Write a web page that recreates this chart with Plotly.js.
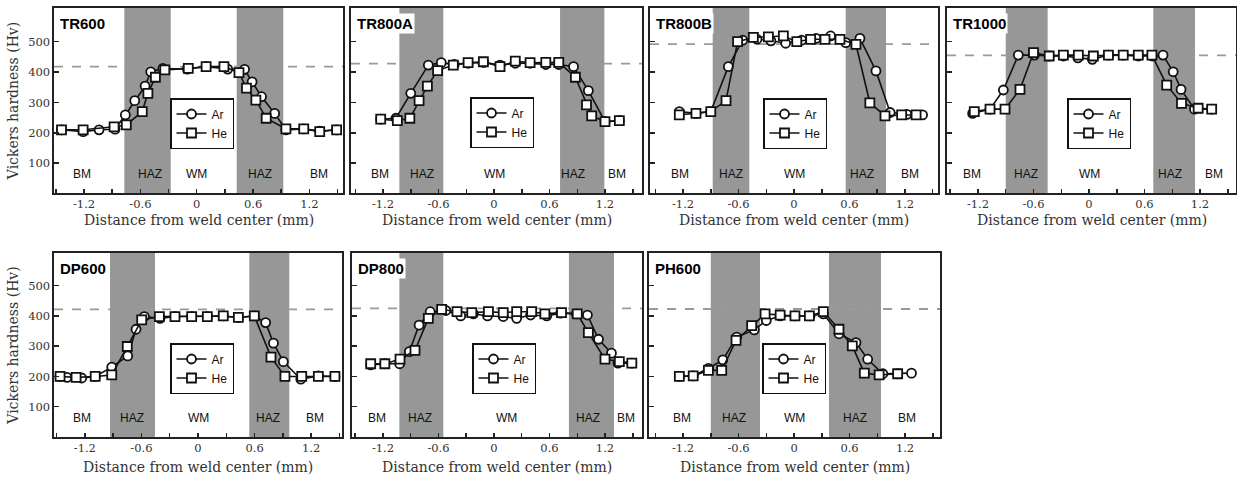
<!DOCTYPE html>
<html>
<head>
<meta charset="utf-8">
<script src="https://cdn.plot.ly/plotly-3.0.1.min.js"></script>
<style>html,body{margin:0;padding:0;background:#fff;}#chart{width:1237px;height:477px;}</style>
</head>
<body>
<div id="chart"></div>
<script>
// ---------------- DATA ----------------
const panelNames = ['TR600', 'TR800A', 'TR800B', 'TR1000', 'DP600', 'DP800', 'PH600'];
const seriesNames = ['Ar', 'He'];
const xTickVals = [-1.2, -0.6, 0, 0.6, 1.2];
const xTickText = ['-1.2', '-0.6', '0', '0.6', '1.2'];
const yTickVals = [100, 200, 300, 400, 500];
const zoneNames = ['BM', 'HAZ', 'WM', 'HAZ', 'BM'];
const xTitle = 'Distance from weld center (mm)';
const yTitle = 'Vickers hardness (Hv)';

const tr600ArX = [-1.44,-1.21,-1.04,-0.87,-0.76,-0.66,-0.55,-0.49,-0.36,-0.10,0.10,0.33,0.51,0.59,0.69,0.83,0.95,1.14,1.31,1.49];
const tr600ArY = [210,204,210,212,259,306,354,401,412,410,418,410,409,368,319,264,210,213,206,210];
const tr600HeX = [-1.44,-1.21,-0.88,-0.75,-0.58,-0.52,-0.44,-0.34,-0.09,0.10,0.29,0.45,0.53,0.63,0.74,0.95,1.14,1.31,1.49];
const tr600HeY = [210,210,220,226,270,330,383,407,412,418,418,398,347,308,248,213,213,204,210];

const tr800aArX = [-1.225,-1.06,-0.90,-0.71,-0.57,-0.43,-0.28,-0.11,0.065,0.23,0.39,0.56,0.70,0.86,1.02,1.20,1.355];
const tr800aArY = [245,248,330,423,431,425,429,432,423,429,429,425,425,418,339,237,240];
const tr800aHeX = [-1.225,-1.045,-0.91,-0.81,-0.72,-0.61,-0.44,-0.28,-0.115,0.065,0.23,0.39,0.56,0.70,0.88,1.0,1.056,1.2,1.355];
const tr800aHeY = [245,240,248,306,354,405,423,431,434,418,436,431,432,432,383,292,256,237,240];

const tr800bArX = [-1.24,-1.06,-0.90,-0.71,-0.555,-0.40,-0.25,-0.09,0.083,0.238,0.396,0.56,0.713,0.886,1.04,1.22,1.39];
const tr800bArY = [270,264,270,418,505,508,503,495,505,511,519,497,511,404,267,261,259];
const tr800bHeX = [-1.24,-1.06,-0.90,-0.735,-0.61,-0.44,-0.277,-0.115,0.03,0.18,0.335,0.497,0.67,0.82,0.984,1.164,1.32];
const tr800bHeY = [259,264,270,306,500,514,516,519,500,508,508,508,491,299,256,259,259];

const tr1000ArX = [-1.258,-1.07,-0.926,-0.764,-0.59,-0.43,-0.277,-0.12,0.036,0.21,0.37,0.533,0.685,0.80,0.91,0.995,1.14,1.326];
const tr1000ArY = [264,278,341,456,456,453,453,447,442,456,456,453,453,456,401,343,278,278];
const tr1000HeX = [-1.24,-1.07,-0.908,-0.746,-0.60,-0.43,-0.277,-0.115,0.047,0.21,0.37,0.533,0.68,0.84,1.0,1.18,1.326];
const tr1000HeY = [270,278,278,343,464,453,456,456,453,456,456,456,456,357,297,281,278];

const dp600ArX = [-1.463,-1.39,-1.233,-1.09,-0.915,-0.745,-0.657,-0.569,-0.403,-0.244,-0.067,0.099,0.268,0.428,0.597,0.717,0.80,0.905,1.09,1.276,1.452];
const dp600ArY = [200,197,195,200,231,268,356,398,392,398,398,398,400,395,400,378,310,249,191,202,200];
const dp600HeX = [-1.463,-1.293,-1.09,-0.915,-0.75,-0.597,-0.41,-0.244,-0.067,0.099,0.268,0.428,0.597,0.774,0.922,1.10,1.276,1.452];
const dp600HeY = [200,197,200,205,299,387,398,398,398,398,400,395,400,264,200,200,200,200];

const dp800ArX = [-1.333,-1.18,-1.02,-0.915,-0.81,-0.69,-0.52,-0.36,-0.223,-0.07,0.10,0.245,0.396,0.57,0.72,0.89,1.01,1.13,1.27,1.34,1.49];
const dp800ArY = [238,242,242,282,370,414,418,400,407,400,398,392,403,400,409,407,403,323,277,244,244];
const dp800HeX = [-1.333,-1.18,-1.016,-0.854,-0.71,-0.566,-0.40,-0.24,-0.06,0.10,0.245,0.407,0.55,0.73,0.90,1.02,1.20,1.355,1.49];
const dp800HeY = [242,242,257,286,392,422,414,411,414,411,414,414,407,411,407,345,257,249,244];

const ph600ArX = [-1.24,-1.09,-0.926,-0.77,-0.62,-0.43,-0.30,-0.15,0.01,0.173,0.317,0.486,0.67,0.796,0.96,1.12,1.27];
const ph600ArY = [200,202,227,255,330,354,385,400,400,400,407,341,312,257,209,209,211];
const ph600HeX = [-1.24,-1.09,-0.926,-0.782,-0.627,-0.458,-0.313,-0.15,0.01,0.166,0.317,0.486,0.63,0.76,0.92,1.12];
const ph600HeY = [200,202,220,220,319,368,407,403,400,400,414,356,301,211,205,209];

// reference (dashed) hardness of each panel
const refHardness = [418, 428, 492, 455, 422, 425, 423];
// HAZ extents (mm): [left start, left end, right start, right end]
const hazTR600  = [-0.771, -0.277, 0.426, 0.922];
const hazTR800A = [-1.023, -0.548, 0.714, 1.193];
const hazTR800B = [-0.879, -0.483, 0.559, 0.995];
const hazTR1000 = [-0.900, -0.447, 0.695, 1.146];
const hazDP600  = [-0.933, -0.456, 0.544, 0.968];
const hazDP800  = [-1.023, -0.548, 0.810, 1.297];
const hazPH600  = [-0.900, -0.368, 0.378, 0.940];

// ---------------- LAYOUT HELPERS ----------------
const W = 1237, H = 477;
const seriesX = [[tr600ArX, tr600HeX],[tr800aArX, tr800aHeX],[tr800bArX, tr800bHeX],[tr1000ArX, tr1000HeX],[dp600ArX, dp600HeX],[dp800ArX, dp800HeX],[ph600ArX, ph600HeX]];
const seriesY = [[tr600ArY, tr600HeY],[tr800aArY, tr800aHeY],[tr800bArY, tr800bHeY],[tr1000ArY, tr1000HeY],[dp600ArY, dp600HeY],[dp800ArY, dp800HeY],[ph600ArY, ph600HeY]];
const hazList = [hazTR600, hazTR800A, hazTR800B, hazTR1000, hazDP600, hazDP800, hazPH600];

// pixel boxes [left, right, top, bottom]
const boxes = [[54,343,8,193],[351,642,8,193],[650,938,8,193],[947,1236,8,193],
               [54,342,253,437],[352,642,253,437],[649,940,253,437]];
const xRanges = [[-1.52,1.558],[-1.546,1.6],[-1.557,1.557],[-1.535,1.589],[-1.527,1.527],[-1.535,1.6],[-1.568,1.578]];
const yRanges = [[2,611],[2,611],[2,611],[2,611],[0,608],[0,608],[0,608]];
const zoneX = [[-1.22,-0.5,0,0.67,1.3],[-1.23,-0.78,0,0.85,1.33],[-1.23,-0.68,0,0.73,1.25],[-1.27,-0.68,0,0.876,1.355],
               [-1.233,-0.70,0,0.74,1.24],[-1.27,-0.8,0.137,1.02,1.43],[-1.21,-0.645,0,0.66,1.22]];
// legend box centre pixel
const legendPos = [[202,123.5],[502,122.5],[795,123.5],[1099,123.5],[202,368.5],[504,368.5],[794,368.5]];
// x-title centre pixel y per row
const xTitleY = [220, 220, 220, 220, 467, 467, 467];

const serif = 'DejaVu Serif, Liberation Serif, serif';
const sans = 'Liberation Sans, Arial, sans-serif';
const symbols = ['circle', 'square'];

const traces = [];
const layout = {
  width: W, height: H,
  margin: {l:0, r:0, t:0, b:0},
  paper_bgcolor: '#fff', plot_bgcolor: '#fff',
  shapes: [], annotations: [],
  font: {family: serif, color: '#222'}
};

panelNames.forEach((name, i) => {
  const n = i + 1;
  const xa = n === 1 ? 'x' : 'x' + n;
  const ya = n === 1 ? 'y' : 'y' + n;
  const xKey = n === 1 ? 'xaxis' : 'xaxis' + n;
  const yKey = n === 1 ? 'yaxis' : 'yaxis' + n;
  const lgKey = n === 1 ? 'legend' : 'legend' + n;
  const b = boxes[i];
  const firstCol = (i === 0 || i === 4);

  layout[xKey] = {
    domain: [b[0]/W, b[1]/W], anchor: ya, range: xRanges[i],
    showgrid: false, zeroline: false,
    showline: true, mirror: true, linecolor: '#222', linewidth: 1.6,
    tickmode: 'array', tickvals: xTickVals, ticktext: xTickText,
    ticks: 'inside', ticklen: 4, tickwidth: 1.5, tickcolor: '#222',
    minor: {tickmode: 'linear', tick0: 0, dtick: 0.3, ticks: 'inside', ticklen: 4, tickwidth: 1.5, tickcolor: '#222', showgrid: false},
    tickfont: {family: serif, size: 11.5, color: '#333'},
    ticklabelstandoff: 0
  };
  layout[yKey] = {
    domain: [1 - b[3]/H, 1 - b[2]/H], anchor: xa, range: yRanges[i],
    showgrid: false, zeroline: false,
    showline: true, mirror: true, linecolor: '#222', linewidth: 1.6,
    tickmode: 'array', tickvals: yTickVals,
    ticks: 'inside', ticklen: 5, tickwidth: 1.5, tickcolor: '#222',
    showticklabels: firstCol,
    tickfont: {family: serif, size: 11.5, color: '#333'},
    title: firstCol ? {text: yTitle, font: {family: serif, size: 14, color: '#333'}, standoff: 6} : {text: ''}
  };

  // x-axis title (placed as annotation for exact placement)
  layout.annotations.push({xref: xa + ' domain', yref: 'paper', x: 0.5, y: 1 - xTitleY[i]/H,
    xanchor: 'center', yanchor: 'middle', text: xTitle, showarrow: false,
    font: {family: serif, size: 14, color: '#333'}});

  layout[lgKey] = {
    x: legendPos[i][0]/W, y: 1 - legendPos[i][1]/H, xanchor: 'center', yanchor: 'middle',
    bgcolor: '#fff', bordercolor: '#111', borderwidth: 1.5,
    font: {family: sans, size: 12, color: '#111'},
    itemwidth: 30, tracegroupgap: 0, traceorder: 'normal',
    itemclick: false, itemdoubleclick: false
  };

  // HAZ bands
  const hz = hazList[i];
  [[hz[0], hz[1]], [hz[2], hz[3]]].forEach(r => {
    layout.shapes.push({type: 'rect', layer: 'below', xref: xa, yref: ya + ' domain',
      x0: r[0], x1: r[1], y0: 0, y1: 1, fillcolor: '#979797', line: {width: 0}});
  });
  // reference (dashed) line
  layout.shapes.push({type: 'line', layer: 'below', xref: xa + ' domain', yref: ya,
    x0: 0, x1: 1, y0: refHardness[i], y1: refHardness[i], line: {color: '#9a9a9a', width: 1.8, dash: 'dash'}});

  // zone labels
  zoneNames.forEach((z, k) => {
    layout.annotations.push({xref: xa, yref: ya, x: zoneX[i][k], y: yRanges[i][0] + 62,
      text: z, showarrow: false, font: {family: sans, size: 12, color: '#111'}});
  });
  // panel title
  layout.annotations.push({xref: xa + ' domain', yref: ya + ' domain', x: 0.015, y: 0.975,
    xanchor: 'left', yanchor: 'top', text: '<b>' + name + '</b>', showarrow: false,
    bgcolor: '#fff', borderpad: 1, font: {family: sans, size: 15, color: '#000'}});

  // series
  seriesNames.forEach((s, k) => {
    traces.push({
      type: 'scatter', mode: 'lines+markers', name: s,
      x: seriesX[i][k], y: seriesY[i][k], xaxis: xa, yaxis: ya,
      legend: lgKey, showlegend: true,
      line: {color: '#111', width: 1.6},
      marker: {symbol: symbols[k], size: 9, color: '#fff', line: {color: '#111', width: 1.8}},
      hoverinfo: 'x+y'
    });
  });
});

Plotly.newPlot('chart', traces, layout, {staticPlot: true, displayModeBar: false});
</script>
</body>
</html>
